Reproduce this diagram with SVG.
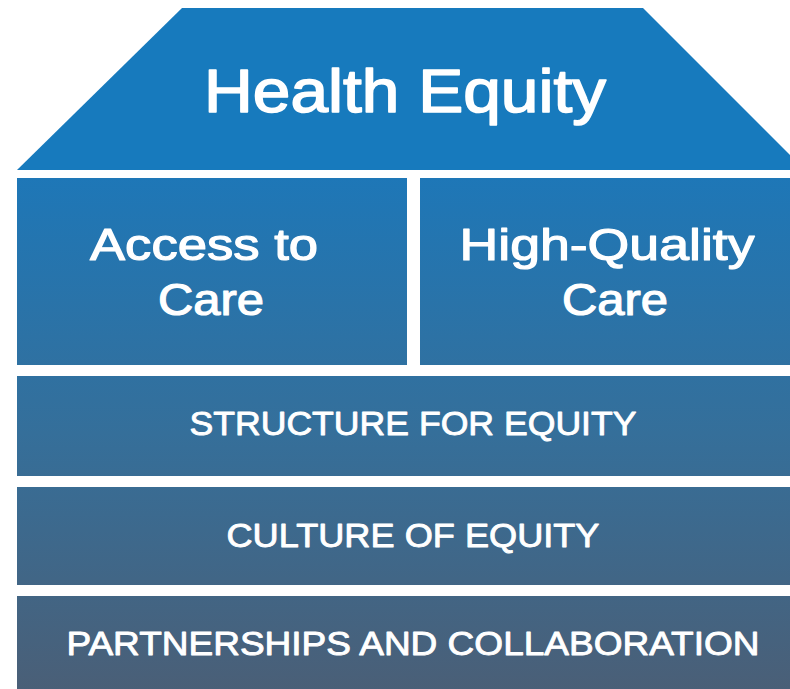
<svg xmlns="http://www.w3.org/2000/svg" width="790" height="689" viewBox="0 0 790 689">
  <defs>
    <!-- shared vertical shading across all the lower tiers -->
    <linearGradient id="tierShade" gradientUnits="userSpaceOnUse" x1="0" y1="178" x2="0" y2="689">
      <stop offset="0" stop-color="#1e77b7"/>
      <stop offset="0.5" stop-color="#356f9a"/>
      <stop offset="1" stop-color="#4a5f77"/>
    </linearGradient>
    <style>
      .block { fill: url(#tierShade); }
      .roof { fill: #177abd; }
      /* regular face with a thin outline gives a medium weight */
      .label { fill: #ffffff; stroke: #ffffff; stroke-linejoin: round; font-family: "Liberation Sans", Arial, sans-serif; font-weight: normal; text-anchor: middle; }
      .big { font-size: 62px; stroke-width: 1.6px; }
      .mid { font-size: 45px; stroke-width: 1.2px; }
      .caps { font-size: 34px; stroke-width: 0.9px; }
    </style>
  </defs>
  <rect width="790" height="689" fill="#ffffff"/>

  <g id="health-equity">
    <polygon class="roof" points="17,170 182,8 643,8 805,170"/>
    <text class="label big" x="405" y="112" textLength="402" lengthAdjust="spacingAndGlyphs">Health Equity</text>
  </g>

  <g id="access-to-care">
    <rect class="block" x="17" y="178" width="390" height="187"/>
    <text class="label mid" x="204" y="260" textLength="228" lengthAdjust="spacingAndGlyphs">Access to</text>
    <text class="label mid" x="211" y="315" textLength="106" lengthAdjust="spacingAndGlyphs">Care</text>
  </g>

  <g id="high-quality-care">
    <rect class="block" x="420" y="178" width="380" height="187"/>
    <text class="label mid" x="607" y="260" textLength="295" lengthAdjust="spacingAndGlyphs">High-Quality</text>
    <text class="label mid" x="615" y="315" textLength="106" lengthAdjust="spacingAndGlyphs">Care</text>
  </g>

  <g id="structure-for-equity">
    <rect class="block" x="17" y="376" width="783" height="100"/>
    <text class="label caps" x="413" y="435" textLength="447" lengthAdjust="spacingAndGlyphs">STRUCTURE FOR EQUITY</text>
  </g>

  <g id="culture-of-equity">
    <rect class="block" x="17" y="487" width="783" height="98"/>
    <text class="label caps" x="413" y="547" textLength="373" lengthAdjust="spacingAndGlyphs">CULTURE OF EQUITY</text>
  </g>

  <g id="partnerships-and-collaboration">
    <rect class="block" x="17" y="596" width="783" height="100"/>
    <text class="label caps" x="413" y="655" textLength="693" lengthAdjust="spacingAndGlyphs">PARTNERSHIPS AND COLLABORATION</text>
  </g>

  <g id="connectors"/>
</svg>
